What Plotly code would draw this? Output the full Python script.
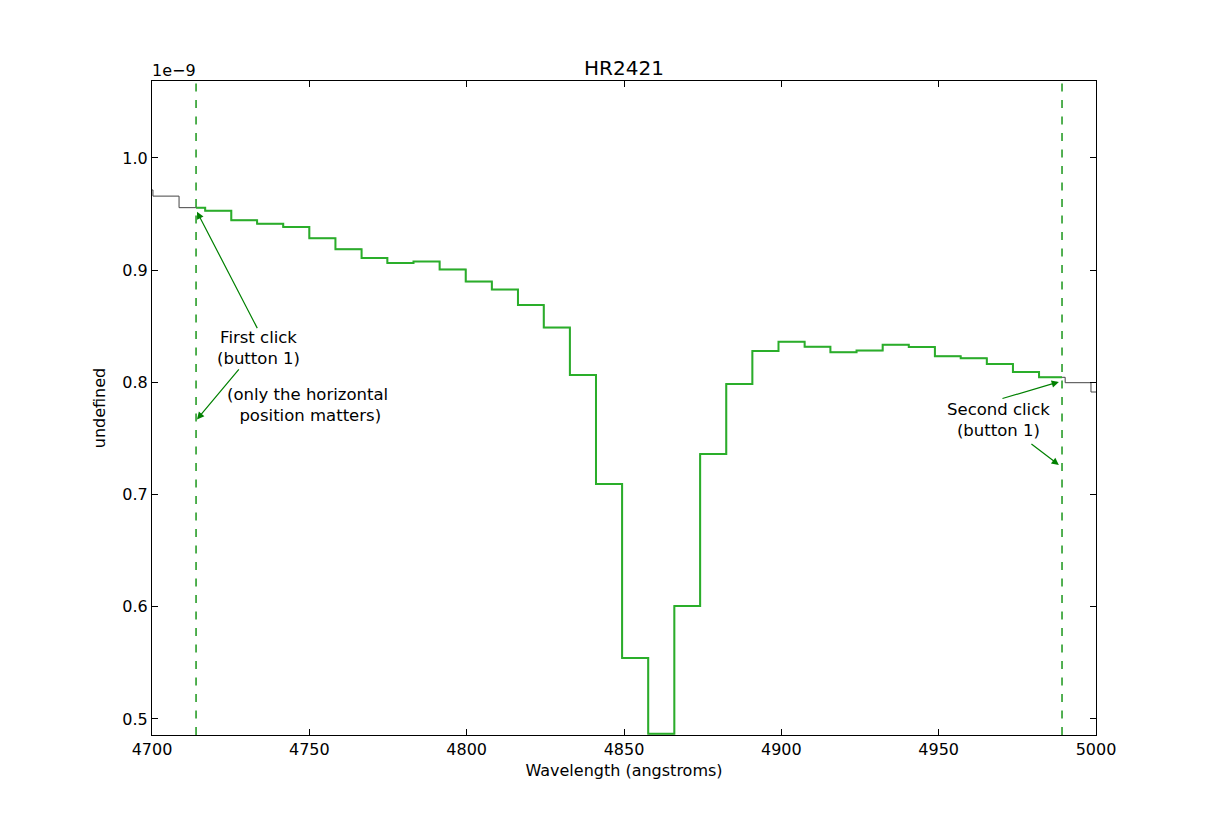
import plotly.graph_objects as go

# Data (flux in units of 1e-9)
bin_edges = [4692.0, 4700.3, 4708.6, 4716.9, 4725.2, 4733.4, 4741.7, 4750.0, 4758.3,
             4766.6, 4774.8, 4783.1, 4791.4, 4799.7, 4808.0, 4816.3, 4824.5, 4832.8,
             4841.1, 4849.4, 4857.7, 4866.0, 4874.2, 4882.5, 4890.8, 4899.1, 4907.4,
             4915.6, 4923.9, 4932.2, 4940.5, 4948.8, 4957.0, 4965.3, 4973.6, 4981.9,
             4990.2, 4998.4]
flux = [0.9715, 0.966, 0.9557, 0.953, 0.9445, 0.9414, 0.9385, 0.9284, 0.9187, 0.9109,
        0.9064, 0.9077, 0.9007, 0.8898, 0.8827, 0.869, 0.8488, 0.8066, 0.7094, 0.5544,
        0.4868, 0.6007, 0.7362, 0.7986, 0.828, 0.8363, 0.8318, 0.8268, 0.8283, 0.8336,
        0.8316, 0.8233, 0.8215, 0.8164, 0.8093, 0.8045, 0.7997, 0.7914]
spectrum_end = 5006.7
first_click = 4714.0
second_click = 4989.2
x_ticks = [4700, 4750, 4800, 4850, 4900, 4950, 5000]
y_ticks = [0.5, 0.6, 0.7, 0.8, 0.9, 1.0]

# full spectrum (thin grey)
xs = bin_edges + [spectrum_end]
ys = flux + [flux[-1]]

# selected region (green) from first to second click
gx, gy = [first_click], []
for i, e in enumerate(bin_edges):
    nxt = bin_edges[i + 1] if i + 1 < len(bin_edges) else spectrum_end
    if nxt <= first_click or e >= second_click:
        continue
    if e > first_click:
        gx.append(e)
    gy.append(flux[i])
gx.append(second_click)
gy.append(gy[-1])

FONT = "DejaVu Sans"
fig = go.Figure()
fig.add_trace(go.Scatter(x=xs, y=ys, mode="lines", line=dict(color="#444444", width=1, shape="hv"),
                         hoverinfo="skip", showlegend=False))
fig.add_trace(go.Scatter(x=gx, y=gy, mode="lines", line=dict(color="#2aae2a", width=2, shape="hv"),
                         showlegend=False))

for xc in (first_click, second_click):
    fig.add_shape(type="line", x0=xc, x1=xc, y0=0, y1=1, xref="x", yref="paper",
                  line=dict(color="#1a961a", width=1.5, dash="8px,8.5px"))

arrow_col = "#008000"
arrows = [
    (first_click + 0.3, 0.952, 4733.7, 0.847),
    (first_click + 0.3, 0.767, 4728.0, 0.813),
    (second_click - 1.0, 0.8004, 4969.8, 0.7852),
    (second_click - 1.0, 0.7264, 4979.0, 0.746),
]
for x, y, ax, ay in arrows:
    fig.add_annotation(x=x, y=y, ax=ax, ay=ay, xref="x", yref="y", axref="x", ayref="y",
                       text="", showarrow=True, arrowhead=2, arrowsize=1.2, arrowwidth=1.2,
                       arrowcolor=arrow_col)

labels = [
    (4733.7, 0.831, "First click<br>(button 1)"),
    (4749.5, 0.7795, "(only the horizontal<br> position matters)"),
    (4968.9, 0.7665, "Second click<br>(button 1)"),
]
for x, y, t in labels:
    fig.add_annotation(x=x, y=y, xref="x", yref="y", text=t, showarrow=False,
                       font=dict(family=FONT, size=16.5, color="black"), align="center")

fig.add_annotation(x=0, y=1.0, xref="paper", yref="paper", xanchor="left", yanchor="bottom",
                   text="1e\u22129", showarrow=False, font=dict(family=FONT, size=16, color="black"),
                   xshift=-2, yshift=-1)

axis_common = dict(showgrid=False, zeroline=False, showline=True, linecolor="black", linewidth=1,
                   mirror="ticks", ticks="inside", ticklen=6, tickcolor="black",
                   tickfont=dict(family=FONT, size=16, color="black"))
fig.update_xaxes(range=[4700, 5000], tickvals=x_ticks, ticktext=[str(v) for v in x_ticks],
                 title=dict(text="Wavelength (angstroms)", font=dict(family=FONT, size=16, color="black"),
                            standoff=6), **axis_common)
fig.update_yaxes(range=[0.4857, 1.0686], tickvals=y_ticks, ticktext=[f"{v:.1f}" for v in y_ticks],
                 title=dict(text="undefined", font=dict(family=FONT, size=16, color="black"),
                            standoff=12), **axis_common)

fig.update_layout(
    width=1217, height=817,
    margin=dict(l=152, r=121, t=81, b=82),
    paper_bgcolor="white", plot_bgcolor="white",
    title=dict(text="HR2421", x=0.5, xanchor="center", xref="paper", y=1 - 68 / 817, yanchor="middle",
               font=dict(family=FONT, size=20, color="black")),
    showlegend=False,
)

fig.write_html("out.html")
